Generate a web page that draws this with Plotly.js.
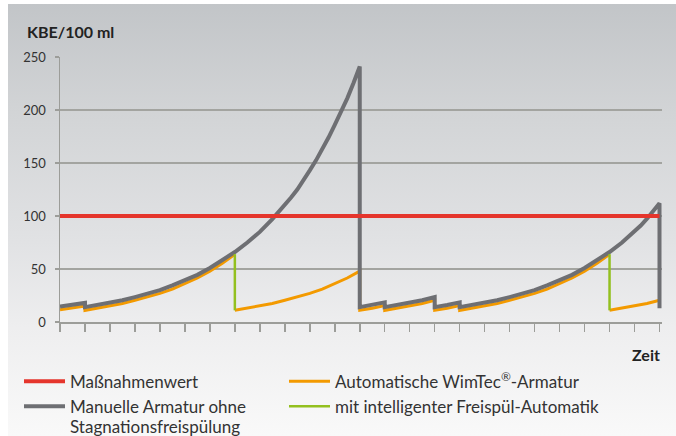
<!DOCTYPE html>
<html><head><meta charset="utf-8">
<script src="https://cdn.plot.ly/plotly-3.0.1.min.js"></script>
<style>
html,body{margin:0;padding:0;background:#fff;}
#chart{width:676px;height:436px;background-color:#fff;
background-image:linear-gradient(to bottom,#c2c5c8 0%,#d2d4d6 25%,#e1e2e4 55%,#eeeeef 75%,#f9f9f9 100%);
background-repeat:no-repeat;background-position:8px 4px;background-size:668px 432px;}
</style></head><body><div id="chart"></div>
<script>
// ---- data ----
const seriesNames = ["Maßnahmenwert", "Automatische WimTec<sup>®</sup>-Armatur", "Manuelle Armatur ohne", "mit intelligenter Freispül-Automatik"];
const grayNameLine2 = "Stagnationsfreispülung";
const yTickVals = [0, 50, 100, 150, 200, 250];

const redX = [0, 24];
const redY = [100, 100];

const grayX = [0, 1, 1, 1.5, 2, 2.5, 3, 3.5, 4, 4.5, 5, 5.5, 6, 6.5, 7, 7.5, 8, 8.5, 9, 9.25, 9.5, 9.75, 10, 10.25, 10.5, 10.75, 11, 11.25, 11.5, 11.75, 12,
  12, 12.5, 13,
  13, 13.5, 14, 14.5, 15,
  15, 15.5, 16,
  16, 16.5, 17, 17.5, 18, 18.5, 19, 19.5, 20, 20.5, 21, 21.5, 22, 22.5, 23, 23.25, 23.5, 23.75, 24,
  24];
const grayY = [14.5, 18, 14, 16, 18, 20.5, 23.5, 26.5, 30, 34.5, 39, 44.5, 51, 58, 66, 75, 85, 97, 110, 117.5, 125, 133.5, 143, 152.5, 163, 174, 186, 198, 211, 225.5, 241,
  14, 16, 18.5,
  14, 16, 18, 20.5, 23.5,
  14, 16, 18.5,
  14, 16, 18, 20.5, 23.5, 26.5, 30, 34.5, 39, 44.5, 51, 58, 66, 75, 85, 91, 97.5, 104.5, 112,
  13];

const orangeX = [0, 1, 1, 1.5, 2, 2.5, 3, 3.5, 4, 4.5, 5, 5.5, 6, 6.5, 7,
  7,
  7, 7.5, 8, 8.5, 9, 9.5, 10, 10.5, 11, 11.5, 12,
  12, 12.5, 13,
  13, 13.5, 14, 14.5, 15,
  15, 15.5, 16,
  16, 16.5, 17, 17.5, 18, 18.5, 19, 19.5, 20, 20.5, 21, 21.5, 22,
  22,
  22, 22.5, 23, 23.5, 24];
const orangeY = [11.5, 15, 11, 13, 15, 17.5, 20.5, 23.5, 27, 31, 36, 41.5, 48, 55.5, 64,
  null,
  11, 13, 15, 17.5, 20.5, 23.5, 27, 31, 36, 41.5, 48,
  11, 13, 15.5,
  11, 13, 15, 17.5, 20.5,
  11, 13, 15.5,
  11, 13, 15, 17.5, 20.5, 23.5, 27, 31, 36, 41.5, 48, 55.5, 64,
  null,
  11, 13, 15, 17.5, 20.5];

const greenX = [7, 7, 7, 22, 22];
const greenY = [64, 11, null, 64, 11];

// ---- styles ----
const FONT = "Lato, 'Open Sans', sans-serif";
const axisGray = '#9c9d99';

const traces = [
  {x: orangeX, y: orangeY, name: seriesNames[1], mode: 'lines', line: {color: '#f39a00', width: 3}, legend: 'legend2', legendrank: 1, connectgaps: false},
  {x: grayX, y: grayY, name: seriesNames[2], mode: 'lines', line: {color: '#6e6f73', width: 4}, legend: 'legend', legendrank: 2},
  {x: redX, y: redY, name: seriesNames[0], mode: 'lines', line: {color: '#e5352c', width: 4}, legend: 'legend', legendrank: 1},
  {x: greenX, y: greenY, name: seriesNames[3], mode: 'lines', line: {color: '#93c01f', width: 2.5}, legend: 'legend2', legendrank: 2, connectgaps: false}
];

const legendCommon = {
  orientation: 'v', xref: 'container', yref: 'container',
  y: 0.166, xanchor: 'left', yanchor: 'top', itemwidth: 41,
  font: {family: FONT, size: 17, color: '#333'}, valign: 'middle',
  bgcolor: 'rgba(0,0,0,0)', traceorder: 'normal'
};

const layout = {
  width: 676, height: 436,
  margin: {l: 60, r: 13.5, t: 57, b: 114, pad: 0, autoexpand: false},
  paper_bgcolor: 'rgba(0,0,0,0)', plot_bgcolor: 'rgba(0,0,0,0)',
  font: {family: FONT, color: '#333'},
  showlegend: true,
  xaxis: {
    range: [0, 24.1], tickmode: 'linear', tick0: 0, dtick: 1,
    ticks: 'outside', ticklen: 8, tickwidth: 1.5, tickcolor: axisGray,
    showticklabels: false, showgrid: false, zeroline: false,
    showline: true, linecolor: axisGray, linewidth: 1.5, fixedrange: true
  },
  yaxis: {
    range: [0, 250], tickmode: 'array', tickvals: yTickVals,
    ticks: 'outside', ticklen: 4, tickwidth: 1.5, tickcolor: axisGray,
    showgrid: true, gridcolor: '#a3a4a0', gridwidth: 1.3, zeroline: false,
    showline: true, linecolor: axisGray, linewidth: 1.5,
    tickfont: {family: FONT, size: 13, color: '#333'}, ticklabelstandoff: 6, fixedrange: true
  },
  legend: Object.assign({}, legendCommon, {x: 19 / 676}),
  legend2: Object.assign({}, legendCommon, {x: 284 / 676}),
  annotations: [
    {text: '<b>KBE/100 ml</b>', xref: 'paper', yref: 'paper', x: -0.0583, y: 1.098, xanchor: 'left', yanchor: 'middle', showarrow: false, font: {family: FONT, size: 16, color: '#222'}},
    {text: '<b>Zeit</b>', xref: 'paper', yref: 'paper', x: 1.0, y: -0.1245, xanchor: 'right', yanchor: 'middle', showarrow: false, font: {family: FONT, size: 16, color: '#222'}},
    {text: grayNameLine2, xref: 'paper', yref: 'paper', x: (68 - 60) / 602.5, y: (322 - 426) / 265, xanchor: 'left', yanchor: 'middle', showarrow: false, font: {family: FONT, size: 17, color: '#333'}}
  ]
};

Plotly.newPlot('chart', traces, layout, {staticPlot: true});
</script>
</body></html>
